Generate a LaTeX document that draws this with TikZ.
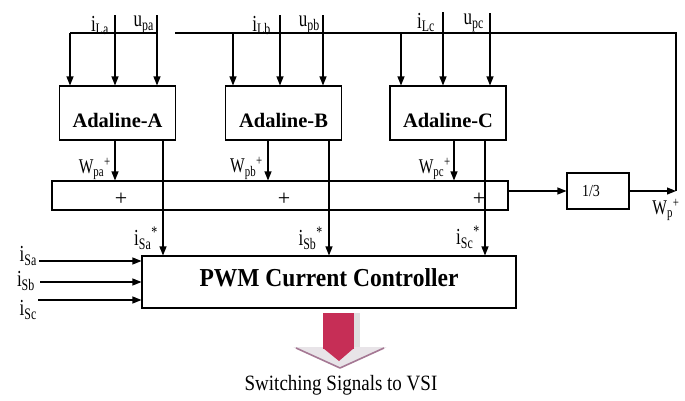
\documentclass[tikz,border=0pt]{standalone}
\usepackage{fontspec}
\setmainfont{Liberation Serif}
\usepackage{graphicx}
\usepackage{tikz}
\usetikzlibrary{positioning,arrows.meta}
\definecolor{arrowred}{RGB}{198,46,86}
\definecolor{headgray}{RGB}{232,228,232}
\definecolor{headedge}{RGB}{165,120,148}
\newcommand{\tallsym}[2][1.35]{\scalebox{1}[#1]{#2}}

\begin{document}
\begin{tikzpicture}[x=1pt,y=-1pt,
  blk/.style={draw, line width=1.1pt, inner sep=0pt},
  wire/.style={line width=1.1pt},
  sig/.style={line width=1.1pt, -{Triangle[length=9pt,width=7pt]}},
  lbl/.style={font=\fontsize{17}{20}\selectfont, inner sep=1pt},
  wlbl/.style={font=\fontsize{15.5}{18}\selectfont, inner sep=1pt},
  plus/.style={font=\fontsize{22}{24}\selectfont, inner sep=0pt},
  adabox/.style={blk, minimum width=116pt, minimum height=54pt, font=\bfseries\fontsize{20.5}{22}\selectfont, text height=28pt, text depth=0pt}]
\useasboundingbox (0,0) rectangle (685,400);

\node[adabox] (adaA) at (117.5,113) {Adaline-A};
\node[adabox] (adaB) at (283.5,113) {Adaline-B};
\node[adabox] (adaC) at (448,113) {Adaline-C};
\node[blk, minimum width=456pt, minimum height=29pt] (sum) at (280,195.5) {};
\node[blk, minimum width=62pt, minimum height=36pt, font=\fontsize{14}{16}\selectfont] (third) at (598,191) {\tallsym[1.2]{1/3}\kern14pt};
\node[blk, minimum width=374pt, minimum height=52pt, font=\bfseries\fontsize{23.5}{26}\selectfont, text height=17pt, text depth=9pt] (pwm) at (329,282) {\tallsym[1.1]{PWM Current Controller}};

\node[plus] (plusA) at (121,199) {+};
\node[plus] (plusB) at (284,199) {+};
\node[plus] (plusC) at (479,199) {+};

\coordinate (iLa) at (115,15);
\coordinate (upa) at (157,15);
\coordinate (iLb) at (280,15);
\coordinate (upb) at (323,15);
\coordinate (iLc) at (443,12);
\coordinate (upc) at (490,13);
\coordinate (tapA) at (70,33);
\coordinate (tapB) at (233,33);
\coordinate (tapC) at (401,33);
\coordinate (gapL) at (158,33);
\coordinate (gapR) at (175,33);
\coordinate (busR) at (676,33);
\coordinate (corner) at (busR |- third.east);
\coordinate (wA) at (115,0);
\coordinate (wB) at (268,0);
\coordinate (wC) at (454,0);
\coordinate (isA) at (163,0);
\coordinate (isB) at (329,0);
\coordinate (isC) at (485,0);
\coordinate (inA) at (39,261);
\coordinate (inB) at (40,282);
\coordinate (inC) at (38,300);

% inputs to the Adalines
\draw[sig] (iLa) -- (iLa |- adaA.north);
\draw[sig] (upa) -- (upa |- adaA.north);
\draw[sig] (iLb) -- (iLb |- adaB.north);
\draw[sig] (upb) -- (upb |- adaB.north);
\draw[sig] (iLc) -- (iLc |- adaC.north);
\draw[sig] (upc) -- (upc |- adaC.north);
\node[lbl, anchor=north east] at ([xshift=-5pt]iLa) {\tallsym{i\textsubscript{La}}};
\node[lbl, anchor=north east] at ([xshift=-2pt]upa) {\tallsym{u\textsubscript{pa}}};
\node[lbl, anchor=north east] at ([xshift=-8pt]iLb) {\tallsym{i\textsubscript{Lb}}};
\node[lbl, anchor=north east] at ([xshift=-2pt]upb) {\tallsym{u\textsubscript{pb}}};
\node[lbl, anchor=north east] at ([xshift=-7pt]iLc) {\tallsym{i\textsubscript{Lc}}};
\node[lbl, anchor=north east] at ([xshift=-5pt]upc) {\tallsym{u\textsubscript{pc}}};

% feedback bus
\draw[wire] (tapA) -- (gapL);
\draw[wire] (gapR) -- (busR) -- (corner);
\draw[sig] (tapA) -- (tapA |- adaA.north);
\draw[sig] (tapB) -- (tapB |- adaB.north);
\draw[sig] (tapC) -- (tapC |- adaC.north);

% weights to the sum
\draw[sig] (adaA.south -| wA) -- (sum.north -| wA);
\draw[sig] (adaB.south -| wB) -- (sum.north -| wB);
\draw[sig] (adaC.south -| wC) -- (sum.north -| wC);
\node[wlbl, anchor=south east] at ([xshift=-3pt]sum.north -| wA) {\tallsym{W\textsubscript{pa}\textsuperscript{+}}};
\node[wlbl, anchor=south east] at ([xshift=-4pt]sum.north -| wB) {\tallsym{W\textsubscript{pb}\textsuperscript{+}}};
\node[wlbl, anchor=south east] at ([xshift=-2pt]sum.north -| wC) {\tallsym{W\textsubscript{pc}\textsuperscript{+}}};
\draw[sig] (sum.east |- third.west) -- (third.west);
\draw[sig] (third.east) -- (corner);
\node[wlbl, anchor=north] at ([xshift=-10pt,yshift=-7pt]corner) {\tallsym{W\textsubscript{p}\textsuperscript{+}}};

% reference currents
\draw[sig] (adaA.south -| isA) -- (pwm.north -| isA);
\draw[sig] (adaB.south -| isB) -- (pwm.north -| isB);
\draw[sig] (adaC.south -| isC) -- (pwm.north -| isC);
\node[lbl, anchor=south east] at ([xshift=-4pt,yshift=5pt]pwm.north -| isA) {\tallsym{i\textsubscript{Sa}\textsuperscript{*}}};
\node[lbl, anchor=south east] at ([xshift=-5pt,yshift=5pt]pwm.north -| isB) {\tallsym{i\textsubscript{Sb}\textsuperscript{*}}};
\node[lbl, anchor=south east] at ([xshift=-4pt,yshift=6pt]pwm.north -| isC) {\tallsym{i\textsubscript{Sc}\textsuperscript{*}}};

% measured currents
\draw[sig] (inA) -- (inA -| pwm.west);
\draw[sig] (inB) -- (inB -| pwm.west);
\draw[sig] (inC) -- (inC -| pwm.west);
\node[lbl, anchor=east] at ([xshift=-1pt,yshift=5pt]inA) {\tallsym{i\textsubscript{Sa}}};
\node[lbl, anchor=east] at ([xshift=-4pt,yshift=1pt]inB) {\tallsym{i\textsubscript{Sb}}};
\node[lbl, anchor=east] at ([xshift=0pt,yshift=-10pt]inC) {\tallsym{i\textsubscript{Sc}}};

% output arrow
\fill[headgray] (293,347) -- (387,347) -- (340,368) -- cycle;
\draw[headedge, line width=1.6pt, line join=round] (296,348) -- (340,368) -- (384,348);
\fill[gray!25] (354,313) rectangle (360,347);
\fill[arrowred] (323,313) rectangle (354,349);
\fill[arrowred] (323,348) -- (354,348) -- (339,361) -- cycle;
\node[font=\fontsize{19}{21}\selectfont] (vsi) at (341,385) {\tallsym[1.15]{Switching Signals to VSI}};
\end{tikzpicture}
\end{document}
